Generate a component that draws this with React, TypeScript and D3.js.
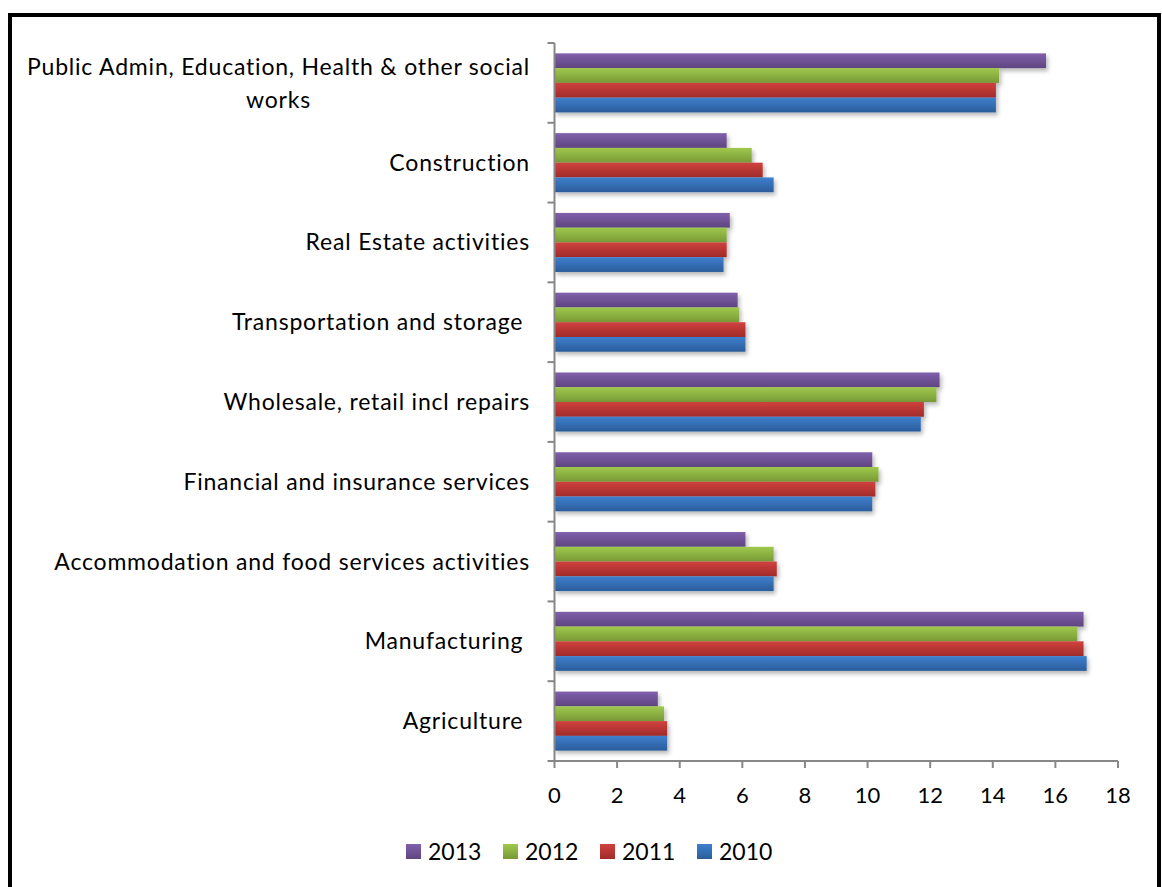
import React, { useEffect, useRef } from "react";
import * as d3 from "d3";

const categories = [
  "Public Admin, Education, Health & other social works",
  "Construction",
  "Real Estate activities",
  "Transportation and storage ",
  "Wholesale, retail incl repairs",
  "Financial and insurance services",
  "Accommodation and food services activities",
  "Manufacturing ",
  "Agriculture ",
];
const seriesNames = ["2013", "2012", "2011", "2010"];
const v2013 = [15.7, 5.5, 5.6, 5.85, 12.3, 10.15, 6.1, 16.9, 3.3];
const v2012 = [14.2, 6.3, 5.5, 5.9, 12.2, 10.35, 7.0, 16.7, 3.5];
const v2011 = [14.1, 6.65, 5.5, 6.1, 11.8, 10.25, 7.1, 16.9, 3.6];
const v2010 = [14.1, 7.0, 5.4, 6.1, 11.7, 10.15, 7.0, 17.0, 3.6];
const seriesValues = [v2013, v2012, v2011, v2010];
const xTicks = [0, 2, 4, 6, 8, 10, 12, 14, 16, 18];
const colorsTop = ["#8060AB", "#9FC94C", "#D0413E", "#3E7FCD"];
const colorsBottom = ["#5F4580", "#789937", "#A02B2A", "#2B5D9B"];

const W = 1162;
const H = 887;

export default function App() {
  const ref = useRef<SVGSVGElement>(null);
  useEffect(() => {
    const svg = d3.select(ref.current);
    svg.selectAll("*").remove();
    const font = "Lato, 'Open Sans', sans-serif";
    const labelSize = 23;
    const labelSpacing = "0.8px";

    const defs = svg.append("defs");
    seriesNames.forEach((s, i) => {
      const g = defs
        .append("linearGradient")
        .attr("id", "grad" + i)
        .attr("x1", 0)
        .attr("y1", 0)
        .attr("x2", 0)
        .attr("y2", 1);
      g.append("stop").attr("offset", "0%").attr("stop-color", colorsTop[i]);
      g.append("stop").attr("offset", "100%").attr("stop-color", colorsBottom[i]);
    });
    const f = defs
      .append("filter")
      .attr("id", "shadow")
      .attr("x", "-5%")
      .attr("y", "-20%")
      .attr("width", "115%")
      .attr("height", "160%");
    f.append("feDropShadow")
      .attr("dx", 2)
      .attr("dy", 3)
      .attr("stdDeviation", 2)
      .attr("flood-color", "#000")
      .attr("flood-opacity", 0.28);

    svg.append("rect").attr("x", 0).attr("y", 0).attr("width", W).attr("height", H).attr("fill", "#fff");
    svg
      .append("rect")
      .attr("x", 10)
      .attr("y", 15)
      .attr("width", 1149)
      .attr("height", 920)
      .attr("fill", "none")
      .attr("stroke", "#000")
      .attr("stroke-width", 4);

    const x = d3.scaleLinear().domain([0, 18]).range([554.5, 1118]);
    const y = d3
      .scaleBand<string>()
      .domain(categories)
      .range([43, 761])
      .paddingInner(0.26)
      .paddingOuter(0.13);
    const ys = d3.scaleBand<string>().domain(seriesNames).range([0, y.bandwidth()]);

    // bars
    seriesNames.forEach((s, si) => {
      svg
        .append("g")
        .attr("filter", "url(#shadow)")
        .selectAll("rect")
        .data(seriesValues[si])
        .join("rect")
        .attr("x", x(0))
        .attr("y", (d, i) => (y(categories[i]) as number) + (ys(s) as number))
        .attr("width", (d) => x(d) - x(0))
        .attr("height", ys.bandwidth())
        .attr("fill", `url(#grad${si})`);
    });

    const axisColor = "#878787";
    // y axis
    svg
      .append("line")
      .attr("x1", x(0))
      .attr("x2", x(0))
      .attr("y1", 43)
      .attr("y2", 761)
      .attr("stroke", axisColor)
      .attr("stroke-width", 2);
    for (let i = 0; i <= categories.length; i++) {
      const yy = 43 + (718 / categories.length) * i;
      svg
        .append("line")
        .attr("x1", x(0) - 7)
        .attr("x2", x(0))
        .attr("y1", yy)
        .attr("y2", yy)
        .attr("stroke", axisColor)
        .attr("stroke-width", 2);
    }
    // x axis
    svg
      .append("line")
      .attr("x1", x(0))
      .attr("x2", x(18))
      .attr("y1", 761)
      .attr("y2", 761)
      .attr("stroke", axisColor)
      .attr("stroke-width", 2);
    xTicks.forEach((t) => {
      svg
        .append("line")
        .attr("x1", x(t))
        .attr("x2", x(t))
        .attr("y1", 761)
        .attr("y2", 768)
        .attr("stroke", axisColor)
        .attr("stroke-width", 2);
      svg
        .append("text")
        .attr("x", x(t))
        .attr("y", 795)
        .attr("dy", "0.35em")
        .attr("text-anchor", "middle")
        .attr("font-family", font)
        .attr("font-size", 22)
        .attr("fill", "#000")
        .text(String(t));
    });

    // category labels
    const labelRight = 530;
    categories.forEach((c, i) => {
      const cy = (y(c) as number) + y.bandwidth() / 2;
      if (c.startsWith("Public Admin")) {
        const lines = ["Public Admin, Education, Health & other social", "works"];
        const t1 = svg
          .append("text")
          .attr("font-family", font)
          .attr("font-size", labelSize)
          .attr("letter-spacing", labelSpacing)
          .attr("text-anchor", "middle")
          .attr("y", cy - 16)
          .attr("dy", "0.35em")
          .text(lines[0]);
        const w1 = (t1.node() as SVGTextElement).getComputedTextLength();
        const cx = labelRight - w1 / 2;
        t1.attr("x", cx);
        svg
          .append("text")
          .attr("font-family", font)
          .attr("font-size", labelSize)
          .attr("letter-spacing", labelSpacing)
          .attr("text-anchor", "middle")
          .attr("x", cx)
          .attr("y", cy + 17)
          .attr("dy", "0.35em")
          .text(lines[1]);
      } else {
        svg
          .append("text")
          .attr("font-family", font)
          .attr("font-size", labelSize)
          .attr("letter-spacing", labelSpacing)
          .attr("text-anchor", "end")
          .attr("x", labelRight)
          .attr("y", cy)
          .attr("dy", "0.35em")
          .style("white-space", "pre")
          .text(c);
      }
    });

    // legend
    const legendX = [406, 503, 600, 697];
    seriesNames.forEach((s, i) => {
      svg
        .append("rect")
        .attr("x", legendX[i])
        .attr("y", 844)
        .attr("width", 15)
        .attr("height", 15)
        .attr("fill", `url(#grad${i})`);
      svg
        .append("text")
        .attr("x", legendX[i] + 22)
        .attr("y", 852)
        .attr("dy", "0.35em")
        .attr("font-family", font)
        .attr("font-size", 23)
        .text(s);
    });
  }, []);
  return (
    <svg
      ref={ref}
      width={W}
      height={H}
      style={{ position: "absolute", left: 0, top: 0, display: "block" }}
    />
  );
}
